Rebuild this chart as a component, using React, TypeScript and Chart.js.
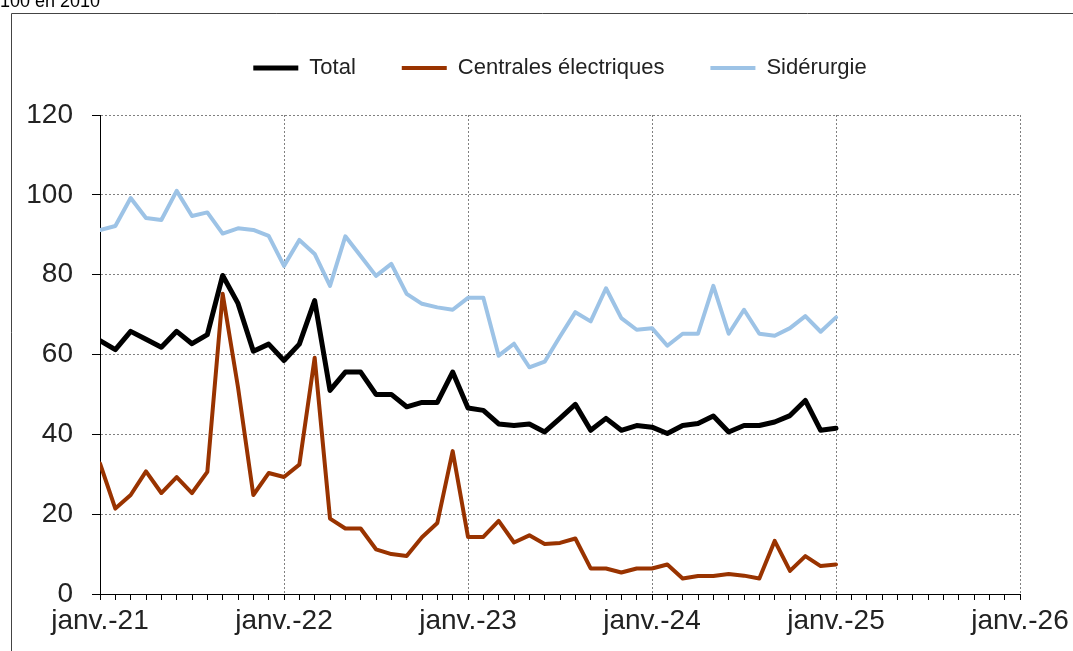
import React, { useEffect, useRef } from 'react';
import { Chart, registerables } from 'chart.js';

Chart.register(...registerables);

const unitNote = '100 en 2010';
const yearLabels = ['janv.-21', 'janv.-22', 'janv.-23', 'janv.-24', 'janv.-25', 'janv.-26'];
const monthsPerYear = 12;
const yTicks = [0, 20, 40, 60, 80, 100, 120];
const seriesNames = ['Total', 'Centrales électriques', 'Sidérurgie'];
const seriesColors = ['#000000', '#993300', '#9DC3E6'];

// Monthly values, janv.-21 .. janv.-25
const totalValues = [
  63.5, 61.2, 65.8, 63.8, 61.8, 65.8, 62.7, 65.0, 79.8, 72.8, 60.8, 62.6,
  58.5, 62.6, 73.5, 51.0, 55.6, 55.6, 50.0, 50.0, 46.9, 48.0, 48.0, 55.6,
  46.6, 46.0, 42.6, 42.2, 42.6, 40.6, 44.0, 47.5, 41.0, 44.0, 41.0, 42.2,
  41.8, 40.2, 42.2, 42.7, 44.6, 40.6, 42.2, 42.2, 43.1, 44.7, 48.5, 41.0,
  41.5,
];
const centralesValues = [
  32.7, 21.4, 24.8, 30.7, 25.3, 29.3, 25.3, 30.6, 75.2, 51.8, 24.8, 30.3,
  29.3, 32.4, 59.2, 18.9, 16.4, 16.4, 11.2, 10.0, 9.5, 14.2, 17.8, 35.8,
  14.3, 14.3, 18.3, 12.9, 14.7, 12.5, 12.8, 13.9, 6.4, 6.4, 5.4, 6.4,
  6.4, 7.4, 3.9, 4.5, 4.5, 5.0, 4.6, 3.9, 13.3, 5.8, 9.5, 7.0,
  7.4,
];
const siderurgieValues = [
  91.2, 92.2, 99.2, 94.2, 93.7, 101.0, 94.7, 95.6, 90.3, 91.6, 91.2, 89.7,
  82.2, 88.7, 85.2, 77.2, 89.6, 84.7, 79.7, 82.7, 75.2, 72.7, 71.8, 71.2,
  74.2, 74.2, 59.7, 62.7, 56.8, 58.2, 64.5, 70.6, 68.3, 76.6, 69.1, 66.2,
  66.6, 62.2, 65.2, 65.2, 77.2, 65.2, 71.2, 65.2, 64.7, 66.6, 69.6, 65.7,
  69.3,
];

const FONT = '"Liberation Sans", Arial, sans-serif';
const GRID = '#808080';
const NONE = 'rgba(0,0,0,0)';

const toPoints = (arr: number[]) => arr.map((v, i) => ({ x: i, y: v }));

const framePlugin = {
  id: 'frame',
  afterDraw(chart: any) {
    const ctx = chart.ctx;
    ctx.save();
    ctx.strokeStyle = '#444';
    ctx.lineWidth = 1;
    ctx.beginPath();
    ctx.moveTo(11.5, chart.height);
    ctx.lineTo(11.5, 13.5);
    ctx.lineTo(chart.width, 13.5);
    ctx.stroke();
    ctx.fillStyle = '#000';
    ctx.font = '18px ' + FONT;
    ctx.textBaseline = 'alphabetic';
    ctx.textAlign = 'left';
    ctx.fillText(unitNote, 0, 7);
    ctx.restore();
  },
};

export default function App() {
  const ref = useRef<HTMLCanvasElement | null>(null);

  useEffect(() => {
    if (!ref.current) return;
    const lastMonth = (yearLabels.length - 1) * monthsPerYear;
    const mk = (i: number, values: number[], width: number) => ({
      label: seriesNames[i],
      data: toPoints(values),
      borderColor: seriesColors[i],
      backgroundColor: seriesColors[i],
      borderWidth: width,
      pointRadius: 0,
      tension: 0,
      borderJoinStyle: 'round',
      borderCapStyle: 'round',
    });
    const chart = new Chart(ref.current, {
      type: 'line',
      data: {
        datasets: [
          mk(0, totalValues, 5),
          mk(1, centralesValues, 4),
          mk(2, siderurgieValues, 4),
        ] as any,
      },
      options: {
        animation: false,
        responsive: false,
        maintainAspectRatio: false,
        layout: { padding: { top: 11, left: 0, right: 53, bottom: 0 } },
        plugins: {
          legend: {
            position: 'top',
            fullSize: false,
            align: 'center',
            labels: {
              usePointStyle: true,
              pointStyle: 'line',
              pointStyleWidth: 45,
              padding: 46,
              color: '#222',
              font: { size: 22, family: FONT },
            },
          } as any,
          tooltip: { enabled: false },
        },
        scales: {
          x: {
            type: 'linear',
            min: 0,
            max: lastMonth,
            afterBuildTicks: (s: any) => {
              s.ticks = Array.from({ length: lastMonth + 1 }, (_, i) => ({ value: i }));
            },
            afterFit: (s: any) => {
              s.height = 57;
            },
            ticks: {
              autoSkip: false,
              maxRotation: 0,
              minRotation: 0,
              padding: 4,
              color: '#222',
              font: { size: 28, family: FONT },
              callback: (v: any) => (Number(v) % monthsPerYear === 0 ? yearLabels[Number(v) / monthsPerYear] : ''),
            },
            grid: {
              color: (c: any) => (c.tick && c.tick.value % monthsPerYear === 0 && c.tick.value > 0 ? GRID : NONE),
              tickColor: '#000',
              tickLength: 6,
              lineWidth: 1,
            },
            border: { color: '#000', width: 1, dash: [2, 2] },
          },
          xTop: {
            type: 'linear',
            position: 'top',
            min: 0,
            max: lastMonth,
            grid: { display: false, drawTicks: false },
            ticks: { display: false },
            border: { display: false },
            afterFit: (s: any) => {
              s.height = 26;
            },
          },
          y: {
            type: 'linear',
            min: yTicks[0],
            max: yTicks[yTicks.length - 1],
            afterBuildTicks: (s: any) => {
              s.ticks = yTicks.map((v) => ({ value: v }));
            },
            afterFit: (s: any) => {
              s.width = 100;
            },
            ticks: {
              padding: 19,
              color: '#222',
              font: { size: 28, family: FONT },
            },
            grid: {
              color: (c: any) => (c.tick && c.tick.value === 0 ? NONE : GRID),
              tickColor: '#000',
              tickLength: 8,
              lineWidth: 1,
            },
            border: { color: '#000', width: 1, dash: [2, 2] },
          },
        },
      } as any,
      plugins: [framePlugin],
    });
    return () => chart.destroy();
  }, []);

  return (
    <div style={{ position: 'fixed', left: 0, top: 0, width: 1073, height: 651, background: '#fff' }}>
      <canvas ref={ref} width={1073} height={651} style={{ display: 'block', width: 1073, height: 651 }} />
    </div>
  );
}
